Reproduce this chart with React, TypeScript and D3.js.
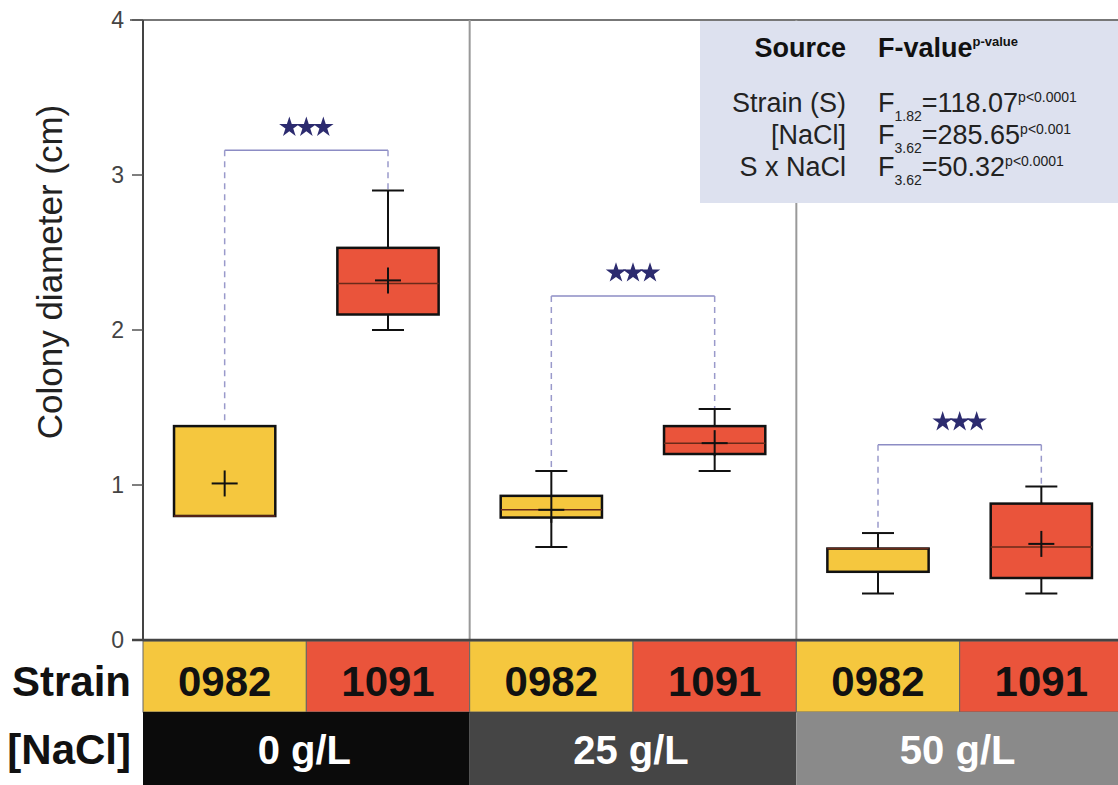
import React from "react";
import * as d3 from "d3";

const width = 1118;
const height = 785;
const marginLeft = 143;
const plotTop = 20;
const plotBottom = 640;
const stripH1 = 71;
const stripH2 = 74;

const naclLevels = ["0 g/L", "25 g/L", "50 g/L"];
const naclColors = ["#0b0b0b", "#454545", "#8a8a8a"];
const strains = ["0982", "1091"];
const strainColors = ["#f5c73e", "#ea543b"];

// [nacl][strain]
const whiskerLow = [[0.8, 2.0], [0.6, 1.09], [0.3, 0.3]];
const q1 = [[0.8, 2.1], [0.79, 1.2], [0.44, 0.4]];
const medians = [[0.8, 2.3], [0.84, 1.27], [0.59, 0.6]];
const q3 = [[1.38, 2.53], [0.93, 1.38], [0.59, 0.88]];
const whiskerHigh = [[1.38, 2.9], [1.09, 1.49], [0.69, 0.99]];
const means = [[1.01, 2.32], [0.84, 1.27], [null, 0.62]];
const bracketLevel = [3.16, 2.22, 1.26];

const yTicks = [0, 1, 2, 3, 4];

const statSources = ["Strain (S)", "[NaCl]", "S x NaCl"];
const statDf = ["1.82", "3.62", "3.62"];
const statF = ["=118.07", "=285.65", "=50.32"];
const statP = ["p<0.0001", "p<0.001", "p<0.0001"];

const font = "'Liberation Sans', Arial, Helvetica, sans-serif";

export default function App() {
  const y = d3.scaleLinear().domain([0, 4]).range([plotBottom, plotTop]);
  const xOuter = d3.scaleBand().domain(naclLevels).range([marginLeft, 1123]);
  const xInner = d3.scaleBand().domain(strains).range([0, xOuter.bandwidth()]);
  const boxW = xInner.bandwidth() * 0.62;
  const capW = 32;
  const crossW = 26;
  const star = d3.symbol().type(d3.symbolStar).size(130)();

  return (
    <svg
      width={width}
      height={height}
      style={{ position: "absolute", left: 0, top: 0, background: "#fff" }}
      fontFamily={font}
    >
      {/* frame */}
      <line x1={130} x2={width} y1={plotTop} y2={plotTop} stroke="#777" strokeWidth={2} />
      {naclLevels.slice(1).map((n) => (
        <line
          key={n}
          x1={xOuter(n)}
          x2={xOuter(n)}
          y1={plotTop}
          y2={plotBottom}
          stroke="#999"
          strokeWidth={2}
        />
      ))}

      {/* stats table */}
      <rect x={700} y={21} width={430} height={182} fill="#dde1ef" />
      <text x={846} y={57} textAnchor="end" fontSize={27} fontWeight="bold" fill="#111">
        Source
      </text>
      <text x={878} y={57} fontSize={27} fontWeight="bold" fill="#111">
        F-value
        <tspan fontSize={13} dy={-11}>p-value</tspan>
      </text>
      {statSources.map((s, i) => (
        <g key={s}>
          <text x={846} y={112 + i * 32} textAnchor="end" fontSize={27} fill="#222">
            {s}
          </text>
          <text x={878} y={112 + i * 32} fontSize={27} fill="#222">
            F
            <tspan fontSize={14} dy={9}>{statDf[i]}</tspan>
            <tspan dy={-9}>{statF[i]}</tspan>
            <tspan fontSize={14} dy={-10}>{statP[i]}</tspan>
          </text>
        </g>
      ))}

      {/* y axis */}
      <line x1={marginLeft} x2={marginLeft} y1={plotTop} y2={plotBottom} stroke="#444" strokeWidth={2} />
      {yTicks.map((t) => (
        <g key={t}>
          <line x1={132} x2={marginLeft} y1={y(t)} y2={y(t)} stroke="#555" strokeWidth={1.5} />
          <text x={124} y={y(t) + 8} textAnchor="end" fontSize={23} fill="#444">
            {t}
          </text>
        </g>
      ))}
      <text
        transform={`translate(62,272) rotate(-90)`}
        textAnchor="middle"
        fontSize={35}
        fill="#222"
      >
        Colony diameter (cm)
      </text>

      {/* boxes */}
      {naclLevels.map((n, i) => {
        const cx = strains.map((s) => (xOuter(n) as number) + (xInner(s) as number) + xInner.bandwidth() / 2);
        const by = y(bracketLevel[i]);
        return (
          <g key={n}>
            <line x1={cx[0]} x2={cx[1]} y1={by} y2={by} stroke="#8c8cc4" strokeWidth={1.5} />
            {strains.map((s, j) => (
              <line
                key={s}
                x1={cx[j]}
                x2={cx[j]}
                y1={by}
                y2={y(whiskerHigh[i][j])}
                stroke="#9a9acb"
                strokeWidth={1.5}
                strokeDasharray="6,5"
              />
            ))}
            {[-17, 0, 17].map((o) => (
              <path
                key={o}
                d={star}
                transform={`translate(${(cx[0] + cx[1]) / 2 + o},${by - 23})`}
                fill="#2c2b6f"
              />
            ))}
            {strains.map((s, j) => {
              const x = cx[j];
              const m = means[i][j];
              return (
                <g key={s} stroke="#111">
                  <line x1={x} x2={x} y1={y(whiskerLow[i][j])} y2={y(whiskerHigh[i][j])} strokeWidth={2} />
                  <line x1={x - capW / 2} x2={x + capW / 2} y1={y(whiskerLow[i][j])} y2={y(whiskerLow[i][j])} strokeWidth={2} />
                  <line x1={x - capW / 2} x2={x + capW / 2} y1={y(whiskerHigh[i][j])} y2={y(whiskerHigh[i][j])} strokeWidth={2} />
                  <rect
                    x={x - boxW / 2}
                    y={y(q3[i][j])}
                    width={boxW}
                    height={y(q1[i][j]) - y(q3[i][j])}
                    fill={strainColors[j]}
                    strokeWidth={2.5}
                  />
                  <line x1={x - boxW / 2} x2={x + boxW / 2} y1={y(medians[i][j])} y2={y(medians[i][j])} strokeWidth={1.5} stroke="#6a2a1a" />
                  {m !== null && (
                    <g strokeWidth={2}>
                      <line x1={x - crossW / 2} x2={x + crossW / 2} y1={y(m)} y2={y(m)} />
                      <line x1={x} x2={x} y1={y(m) - crossW / 2} y2={y(m) + crossW / 2} />
                    </g>
                  )}
                </g>
              );
            })}
          </g>
        );
      })}

      {/* x strip: strains */}
      {naclLevels.map((n, i) =>
        strains.map((s, j) => {
          const x0 = (xOuter(n) as number) + (xInner(s) as number);
          return (
            <g key={n + s}>
              <rect
                x={x0}
                y={plotBottom + 1}
                width={xInner.bandwidth()}
                height={stripH1}
                fill={strainColors[j]}
                stroke="#666"
                strokeWidth={1}
              />
              <text
                x={x0 + xInner.bandwidth() / 2}
                y={plotBottom + 56}
                textAnchor="middle"
                fontSize={42}
                fontWeight="bold"
                fill="#111"
              >
                {s}
              </text>
            </g>
          );
        })
      )}
      {naclLevels.map((n, i) => (
        <g key={n}>
          <rect
            x={xOuter(n)}
            y={plotBottom + 1 + stripH1}
            width={xOuter.bandwidth()}
            height={stripH2}
            fill={naclColors[i]}
          />
          <text
            x={(xOuter(n) as number) + xOuter.bandwidth() / 2 - 2}
            y={plotBottom + stripH1 + 53}
            textAnchor="middle"
            fontSize={40}
            fontWeight="bold"
            fill="#fff"
          >
            {n}
          </text>
        </g>
      ))}
      <line x1={132} x2={width} y1={plotBottom} y2={plotBottom} stroke="#444" strokeWidth={2.5} />
      <text x={131} y={plotBottom + 56} textAnchor="end" fontSize={42} fontWeight="bold" fill="#111">
        Strain
      </text>
      <text x={131} y={plotBottom + stripH1 + 53} textAnchor="end" fontSize={42} fontWeight="bold" fill="#111">
        [NaCl]
      </text>
    </svg>
  );
}
